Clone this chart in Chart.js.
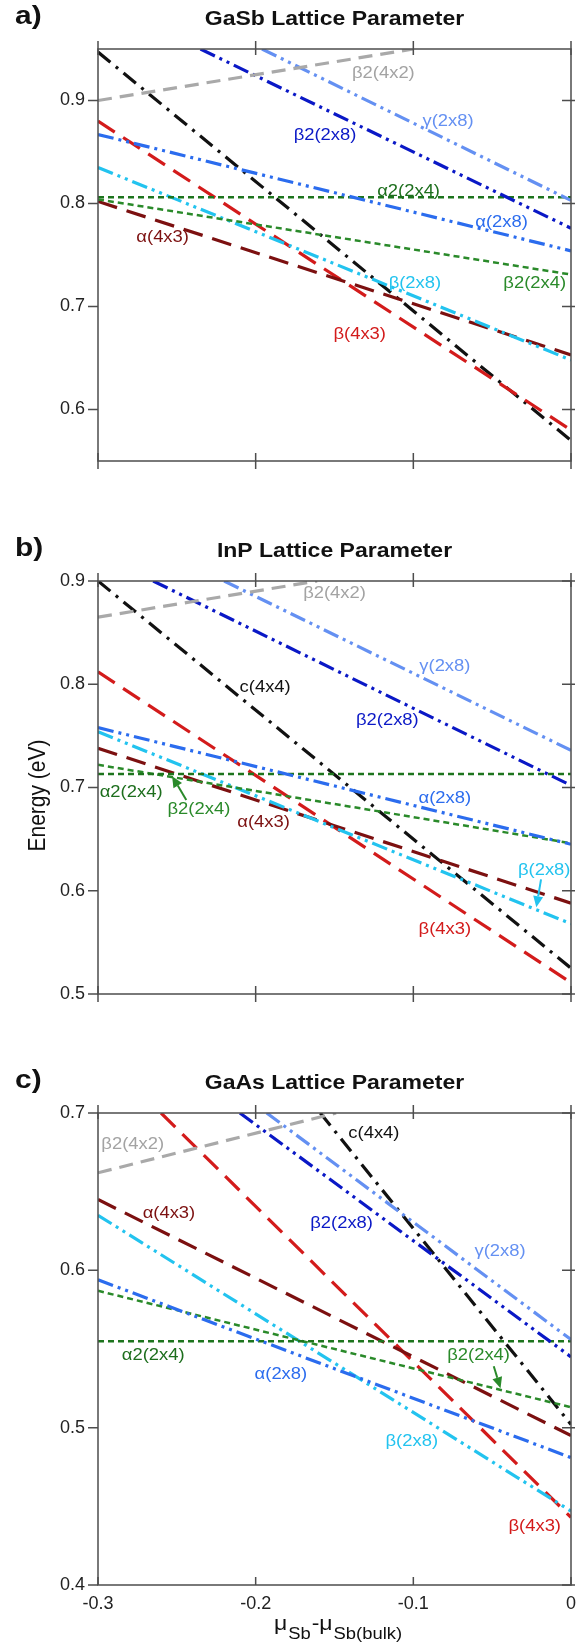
<!DOCTYPE html>
<html>
<head>
<meta charset="utf-8">
<script src="https://cdn.jsdelivr.net/npm/chart.js@4.4.1/dist/chart.umd.min.js"></script>
<style>
  html, body { margin: 0; padding: 0; background: #fff; }
  #wrap { position: relative; width: 585px; height: 1644px; overflow: hidden; }
  .panel { position: absolute; left: 0; width: 585px; }
</style>
</head>
<body>
<div id="wrap">
  <div class="panel" style="top:0;height:540px"><canvas id="chartA"></canvas></div>
  <div class="panel" style="top:520px;height:545px"><canvas id="chartB"></canvas></div>
  <div class="panel" style="top:1060px;height:584px"><canvas id="chartC"></canvas></div>
</div>
<script>
// x axis: mu_Sb - mu_Sb(bulk)
const xTicks = [-0.3, -0.2, -0.1, 0];

// a) GaSb lattice parameter, each line as [mu, energy] end points
const gasbYTicks = [0.6, 0.7, 0.8, 0.9];
const gasbLines = {
  b2_4x2: [[-0.3, 0.900], [-0.1, 0.950]],
  g_2x8:  [[-0.196, 0.950], [0, 0.803]],
  b2_2x8: [[-0.235, 0.950], [0, 0.776]],
  a_2x8:  [[-0.3, 0.867], [0, 0.754]],
  a2_2x4: [[-0.3, 0.806], [0, 0.806]],
  b2_2x4: [[-0.3, 0.804], [0, 0.731]],
  b_2x8:  [[-0.3, 0.835], [0, 0.648]],
  a_4x3:  [[-0.3, 0.802], [0, 0.653]],
  b_4x3:  [[-0.3, 0.880], [0, 0.580]],
  c_4x4:  [[-0.3, 0.947], [0, 0.570]]
};

// b) InP lattice parameter
const inpYTicks = [0.5, 0.6, 0.7, 0.8, 0.9];
const inpLines = {
  b2_4x2: [[-0.3, 0.865], [-0.161, 0.900]],
  g_2x8:  [[-0.220, 0.900], [0, 0.736]],
  b2_2x8: [[-0.265, 0.900], [0, 0.702]],
  a_2x8:  [[-0.3, 0.758], [0, 0.645]],
  a2_2x4: [[-0.3, 0.713], [0, 0.713]],
  b2_2x4: [[-0.3, 0.722], [0, 0.646]],
  b_2x8:  [[-0.3, 0.754], [0, 0.568]],
  a_4x3:  [[-0.3, 0.738], [0, 0.588]],
  b_4x3:  [[-0.3, 0.812], [0, 0.511]],
  c_4x4:  [[-0.3, 0.900], [0, 0.525]]
};

// c) GaAs lattice parameter
const gaasYTicks = [0.4, 0.5, 0.6, 0.7];
const gaasLines = {
  b2_4x2: [[-0.3, 0.662], [-0.149, 0.700]],
  g_2x8:  [[-0.193, 0.700], [0, 0.556]],
  b2_2x8: [[-0.210, 0.700], [0, 0.545]],
  a_2x8:  [[-0.3, 0.594], [0, 0.481]],
  a2_2x4: [[-0.3, 0.555], [0, 0.555]],
  b2_2x4: [[-0.3, 0.587], [0, 0.513]],
  b_2x8:  [[-0.3, 0.635], [0, 0.447]],
  a_4x3:  [[-0.3, 0.645], [0, 0.495]],
  b_4x3:  [[-0.260, 0.700], [0, 0.443]],
  c_4x4:  [[-0.159, 0.700], [0, 0.502]]
};

// in-plot labels: [text, series, mu, energy]
const gasbLabels = [
  ['β2(4x2)', 'b2_4x2', -0.119, 0.926],
  ['γ(2x8)', 'g_2x8', -0.078, 0.880],
  ['β2(2x8)', 'b2_2x8', -0.156, 0.866],
  ['α2(2x4)', 'a2_2x4', -0.103, 0.812],
  ['α(2x8)', 'a_2x8', -0.044, 0.781],
  ['α(4x3)', 'a_4x3', -0.259, 0.767],
  ['β(2x8)', 'b_2x8', -0.099, 0.722],
  ['β2(2x4)', 'b2_2x4', -0.023, 0.722],
  ['β(4x3)', 'b_4x3', -0.134, 0.673]
];
const inpLabels = [
  ['β2(4x2)', 'b2_4x2', -0.150, 0.888],
  ['c(4x4)', 'c_4x4', -0.194, 0.797],
  ['γ(2x8)', 'g_2x8', -0.080, 0.817],
  ['β2(2x8)', 'b2_2x8', -0.1165, 0.765],
  ['α(2x8)', 'a_2x8', -0.080, 0.689],
  ['α2(2x4)', 'a2_2x4', -0.279, 0.695],
  ['β2(2x4)', 'b2_2x4', -0.236, 0.679],
  ['α(4x3)', 'a_4x3', -0.195, 0.666],
  ['β(2x8)', 'b_2x8', -0.017, 0.6195],
  ['β(4x3)', 'b_4x3', -0.080, 0.562]
];
const gaasLabels = [
  ['c(4x4)', 'c_4x4', -0.125, 0.687],
  ['β2(4x2)', 'b2_4x2', -0.278, 0.680],
  ['α(4x3)', 'a_4x3', -0.255, 0.636],
  ['β2(2x8)', 'b2_2x8', -0.1455, 0.630],
  ['γ(2x8)', 'g_2x8', -0.045, 0.612],
  ['α2(2x4)', 'a2_2x4', -0.265, 0.5455],
  ['β2(2x4)', 'b2_2x4', -0.0586, 0.5455],
  ['α(2x8)', 'a_2x8', -0.184, 0.534],
  ['β(2x8)', 'b_2x8', -0.101, 0.491],
  ['β(4x3)', 'b_4x3', -0.023, 0.437]
];

// arrows: [series, tail mu, tail E, head mu, head E]
const inpArrows = [
  ['b2_2x4', -0.244, 0.688, -0.253, 0.711],
  ['b_2x8', -0.019, 0.611, -0.022, 0.584]
];
const gaasArrows = [
  ['b2_2x4', -0.049, 0.539, -0.0447, 0.525]
];

const seriesOrder = ['b2_4x2', 'g_2x8', 'b2_2x8', 'a_2x8', 'a2_2x4', 'b2_2x4', 'b_2x8', 'a_4x3', 'b_4x3', 'c_4x4'];

const styles = {
  b2_4x2: { color: '#a9a9a9', text: '#a3a3a3', dash: [14, 8], width: 3.2 },
  g_2x8:  { color: '#6490f2', text: '#6490f2', dash: [16, 5, 3, 5, 3, 5], width: 3.2 },
  b2_2x8: { color: '#0a18c6', text: '#0a18c6', dash: [16, 5, 3, 5, 3, 5], width: 3.2 },
  a_2x8:  { color: '#2b6cee', text: '#2b6cee', dash: [16, 5, 3, 5, 3, 5], width: 3.2 },
  a2_2x4: { color: '#1d741d', text: '#1d6e1d', dash: [6, 4], width: 2.5 },
  b2_2x4: { color: '#2a8a2a', text: '#2a8a2a', dash: [6, 4], width: 2.5 },
  b_2x8:  { color: '#22c3ef', text: '#22c3ef', dash: [16, 5, 3, 5, 3, 5], width: 3.2 },
  a_4x3:  { color: '#7c1010', text: '#7c1010', dash: [20, 10], width: 3.2 },
  b_4x3:  { color: '#d31b1b', text: '#d31b1b', dash: [20, 10], width: 3.2 },
  c_4x4:  { color: '#111111', text: '#111111', dash: [16, 7, 3, 7], width: 3.2 }
};

const FONT = "'Liberation Sans', Arial, Helvetica, sans-serif";
const SX = 1.15; // the original lettering is a bit wide

function wideText(ctx, text, x, y, font, color, align, baseline) {
  ctx.save();
  ctx.font = font;
  ctx.fillStyle = color;
  ctx.textAlign = align || 'center';
  ctx.textBaseline = baseline || 'middle';
  ctx.translate(x, y);
  ctx.scale(SX, 1);
  ctx.fillText(text, 0, 0);
  ctx.restore();
}

function arrow(ctx, x1, y1, x2, y2, color) {
  const ang = Math.atan2(y2 - y1, x2 - x1);
  const hl = 11, hw = 5;
  ctx.save();
  ctx.strokeStyle = color;
  ctx.fillStyle = color;
  ctx.lineWidth = 2;
  ctx.beginPath();
  ctx.moveTo(x1, y1);
  ctx.lineTo(x2 - Math.cos(ang) * hl, y2 - Math.sin(ang) * hl);
  ctx.stroke();
  ctx.beginPath();
  ctx.moveTo(x2, y2);
  ctx.lineTo(x2 - Math.cos(ang) * hl - Math.sin(ang) * hw, y2 - Math.sin(ang) * hl + Math.cos(ang) * hw);
  ctx.lineTo(x2 - Math.cos(ang) * hl + Math.sin(ang) * hw, y2 - Math.sin(ang) * hl - Math.cos(ang) * hw);
  ctx.closePath();
  ctx.fill();
  ctx.restore();
}

// frame, tick marks, titles and labels
const decorPlugin = {
  id: 'decor',
  afterDatasetsDraw(chart, args, opts) {
    const ctx = chart.ctx;
    const { left, right, top, bottom } = chart.chartArea;
    const xs = chart.scales.x, ys = chart.scales.y;

    ctx.save();
    ctx.strokeStyle = '#4d4d4d';
    ctx.lineWidth = 1.5;
    ctx.strokeRect(left, top, right - left, bottom - top);
    ctx.beginPath();
    xTicks.forEach(v => {
      const px = xs.getPixelForValue(v);
      ctx.moveTo(px, top - 8); ctx.lineTo(px, top + 6);
      ctx.moveTo(px, bottom - 8); ctx.lineTo(px, bottom + (opts.last ? 0 : 8));
    });
    opts.yTicks.forEach(v => {
      const py = ys.getPixelForValue(v);
      ctx.moveTo(left - 10, py); ctx.lineTo(left, py);
      ctx.moveTo(right - 9, py); ctx.lineTo(right + 4, py);
    });
    ctx.stroke();
    ctx.restore();

    opts.labels.forEach(([text, key, x, y]) => {
      wideText(ctx, text, xs.getPixelForValue(x), ys.getPixelForValue(y),
        '16px ' + FONT, styles[key].text);
    });
    (opts.arrows || []).forEach(([key, x1, y1, x2, y2]) => {
      arrow(ctx, xs.getPixelForValue(x1), ys.getPixelForValue(y1),
        xs.getPixelForValue(x2), ys.getPixelForValue(y2), styles[key].color);
    });

    // panel letter and title
    wideText(ctx, opts.letter, 15, top - 25, 'bold 26px ' + FONT, '#111', 'left', 'alphabetic');
    wideText(ctx, opts.title, (left + right) / 2, top - 24, 'bold 20px ' + FONT, '#111', 'center', 'alphabetic');

    if (opts.yTitle) {
      ctx.save();
      ctx.translate(38, (top + bottom) / 2 + 8);
      ctx.rotate(-Math.PI / 2);
      ctx.scale(1, SX);
      ctx.font = '21px ' + FONT;
      ctx.fillStyle = '#111';
      ctx.textAlign = 'center';
      ctx.textBaseline = 'middle';
      ctx.fillText(opts.yTitle, 0, 0);
      ctx.restore();
    }

    if (opts.last) {
      // mu_Sb - mu_Sb(bulk) with subscripts
      const parts = [
        ['μ', '20px ' + FONT, 0],
        ['Sb', '16px ' + FONT, 9],
        ['-μ', '20px ' + FONT, 0],
        ['Sb(bulk)', '16px ' + FONT, 9]
      ];
      ctx.save();
      let total = 0;
      parts.forEach(p => { ctx.font = p[1]; total += ctx.measureText(p[0]).width * SX + 1; });
      let cx = (left + right) / 2 + 4 - total / 2;
      const base = bottom + 45;
      parts.forEach(p => {
        ctx.font = p[1];
        const w = ctx.measureText(p[0]).width * SX;
        wideText(ctx, p[0], cx, base + p[2], p[1], '#111', 'left', 'alphabetic');
        cx += w + 1;
      });
      ctx.restore();
    }
  }
};

function makePanel(id, cfg) {
  const datasets = seriesOrder.map(key => ({
    label: key,
    data: cfg.lines[key].map(([x, y]) => ({ x, y })),
    borderColor: styles[key].color,
    borderDash: styles[key].dash,
    borderWidth: styles[key].width,
    pointRadius: 0,
    fill: false,
    tension: 0
  }));

  new Chart(document.getElementById(id), {
    type: 'line',
    data: { datasets },
    options: {
      responsive: true,
      maintainAspectRatio: false,
      animation: false,
      events: [],
      layout: { padding: cfg.padding },
      plugins: {
        legend: { display: false },
        tooltip: { enabled: false },
        decor: {
          yTicks: cfg.yTicks,
          labels: cfg.labels,
          arrows: cfg.arrows,
          letter: cfg.letter,
          title: cfg.title,
          yTitle: cfg.yTitle,
          last: cfg.last
        }
      },
      scales: {
        x: {
          type: 'linear',
          min: -0.3,
          max: 0,
          display: !!cfg.last,
          grid: { display: false, drawTicks: false },
          border: { display: false },
          afterBuildTicks: s => { s.ticks = xTicks.map(v => ({ value: v })); },
          afterFit: s => { s.height = 59; },
          ticks: {
            padding: 8,
            color: '#222',
            maxRotation: 0,
            autoSkip: false,
            font: { family: FONT, size: 18 },
            callback: v => Math.abs(v) < 1e-9 ? '0' : v.toFixed(1)
          }
        },
        y: {
          min: cfg.yMin,
          max: cfg.yMax,
          grid: { display: false, drawTicks: false },
          border: { display: false },
          afterBuildTicks: s => { s.ticks = cfg.yTicks.map(v => ({ value: v })); },
          afterFit: s => { s.width = 98; },
          ticks: {
            padding: 13,
            color: '#222',
            font: { family: FONT, size: 18 },
            callback: v => v.toFixed(1)
          }
        }
      }
    },
    plugins: [decorPlugin]
  });
}

makePanel('chartA', {
  lines: gasbLines, yTicks: gasbYTicks, yMin: 0.55, yMax: 0.95,
  labels: gasbLabels, letter: 'a)', title: 'GaSb Lattice Parameter',
  padding: { top: 49, right: 14, bottom: 20, left: 0 }
});
makePanel('chartB', {
  lines: inpLines, yTicks: inpYTicks, yMin: 0.5, yMax: 0.9,
  labels: inpLabels, arrows: inpArrows, letter: 'b)', title: 'InP Lattice Parameter',
  yTitle: 'Energy (eV)',
  padding: { top: 61, right: 14, bottom: 12, left: 0 }
});
makePanel('chartC', {
  lines: gaasLines, yTicks: gaasYTicks, yMin: 0.4, yMax: 0.7,
  labels: gaasLabels, arrows: gaasArrows, letter: 'c)', title: 'GaAs Lattice Parameter',
  last: true,
  padding: { top: 53, right: 14, bottom: 0, left: 0 }
});
</script>
</body>
</html>
